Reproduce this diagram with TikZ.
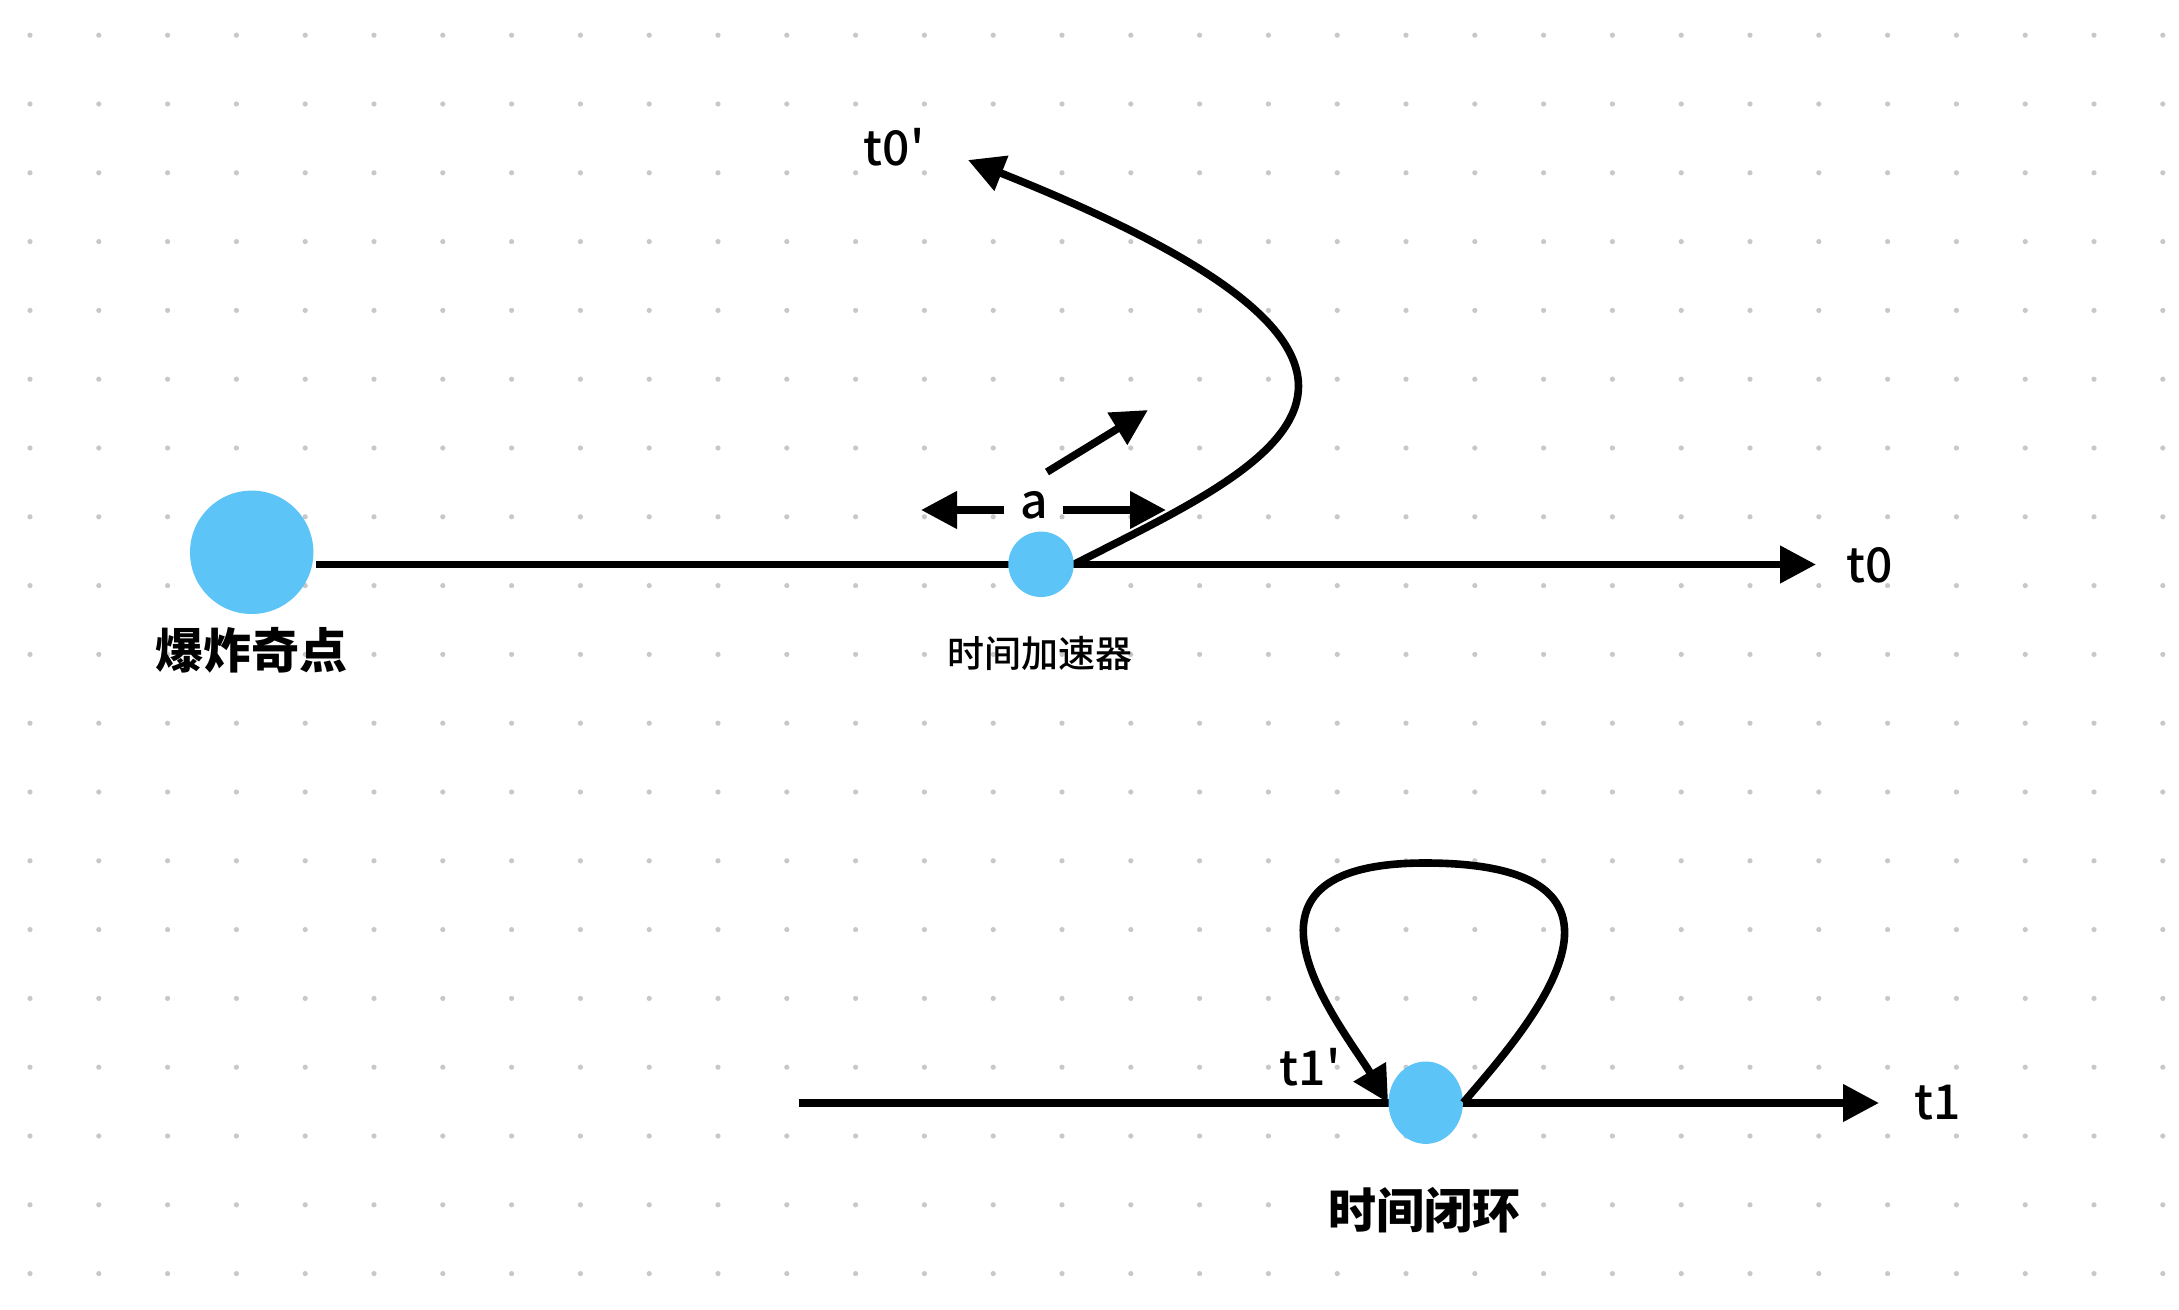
\documentclass[tikz,border=0pt]{standalone}
\usepackage{fontspec}
\setmainfont{Noto Sans CJK SC}
\newfontfamily\medfont{Noto Sans CJK SC Medium}
\usetikzlibrary{arrows.meta,shapes.geometric}
\definecolor{cblue}{RGB}{92,196,246}
\definecolor{dotc}{RGB}{200,200,200}
\pgfdeclarelayer{bg}
\pgfsetlayers{bg,main}
\begin{document}
\begin{tikzpicture}[x=0.5pt,y=-0.5pt,
  ln/.style={line width=3.8pt},
  arr/.style={ln,-{Triangle[length=18pt,width=18pt]}},
  dotn/.style={circle,fill=dotc,inner sep=0,minimum size=2.6pt},
  bigtxt/.style={font=\fontsize{24}{28}\selectfont\medfont,inner sep=0},
  cjkbig/.style={font=\fontsize{24}{28}\selectfont\bfseries,inner sep=0},
  smalltxt/.style={font=\fontsize{18.5}{22}\selectfont\medfont,inner sep=0}]
\begin{pgfonlayer}{bg}
\fill[white] (0,0) rectangle (2179,1310);
\end{pgfonlayer}
\useasboundingbox (0,0) rectangle (2179,1310);
% dot grid
\begin{pgfonlayer}{bg}
\foreach \i in {0,...,31}{
  \foreach \j in {0,...,18}{
    \node[dotn] (d\i-\j) at ({30+68.8*\i},{35.2+68.8*\j}) {};
  }
}
\end{pgfonlayer}
% nodes (upper)
\node[circle,fill=cblue,inner sep=0,minimum size=61.7pt] (big) at (251.7,552.3) {};
\node[circle,fill=cblue,inner sep=0,minimum size=32.7pt] (acc) at (1041,564.3) {};
\node[cjkbig] (lbig) at (251,650) {爆炸奇点};
\node[smalltxt] (lacc) at (1040,653) {时间加速器};
\node[bigtxt] (lt0) at (1870,565) {t0};
\node[bigtxt] (lt0p) at (894,147) {t0\textquotesingle};
\node[bigtxt] (la) at (1034,505) {a};
\coordinate (s0) at (316,564.5);
\coordinate (e0) at (1816,564.5);
\coordinate (e0p) at (968,160);
\coordinate (aL0) at (1004,510);
\coordinate (aL1) at (921,510);
\coordinate (aR0) at (1063,510);
\coordinate (aR1) at (1166,510);
\coordinate (g0) at (1047,472);
\coordinate (g1) at (1148,410);
% nodes (lower)
\node[ellipse,fill=cblue,inner sep=0,minimum width=37.2pt,minimum height=41.2pt] (loop) at (1425.7,1102.7) {};
\node[cjkbig] (lloop) at (1424,1210) {时间闭环};
\node[bigtxt] (lt1) at (1938,1103) {t1};
\node[bigtxt] (lt1p) at (1310,1067) {t1\textquotesingle};
\coordinate (s1) at (799,1103);
\coordinate (e1) at (1879,1103);
\coordinate (top) at (1425,863);
\begin{pgfonlayer}{bg}
\draw[arr] (s0) -- (e0);
\draw[arr] (acc.east) .. controls (1262,468) and (1500,372) .. (e0p);
\draw[arr] (aL0) -- (aL1);
\draw[arr] (aR0) -- (aR1);
\draw[arr] (g0) -- (g1);
\draw[arr] (s1) -- (e1);
\end{pgfonlayer}
\draw[arr] (loop.east) .. controls (1514,1042) and (1683,863) .. (top)
  .. controls (1206,863) and (1344,1029) .. (loop.west);
\end{tikzpicture}
\end{document}
